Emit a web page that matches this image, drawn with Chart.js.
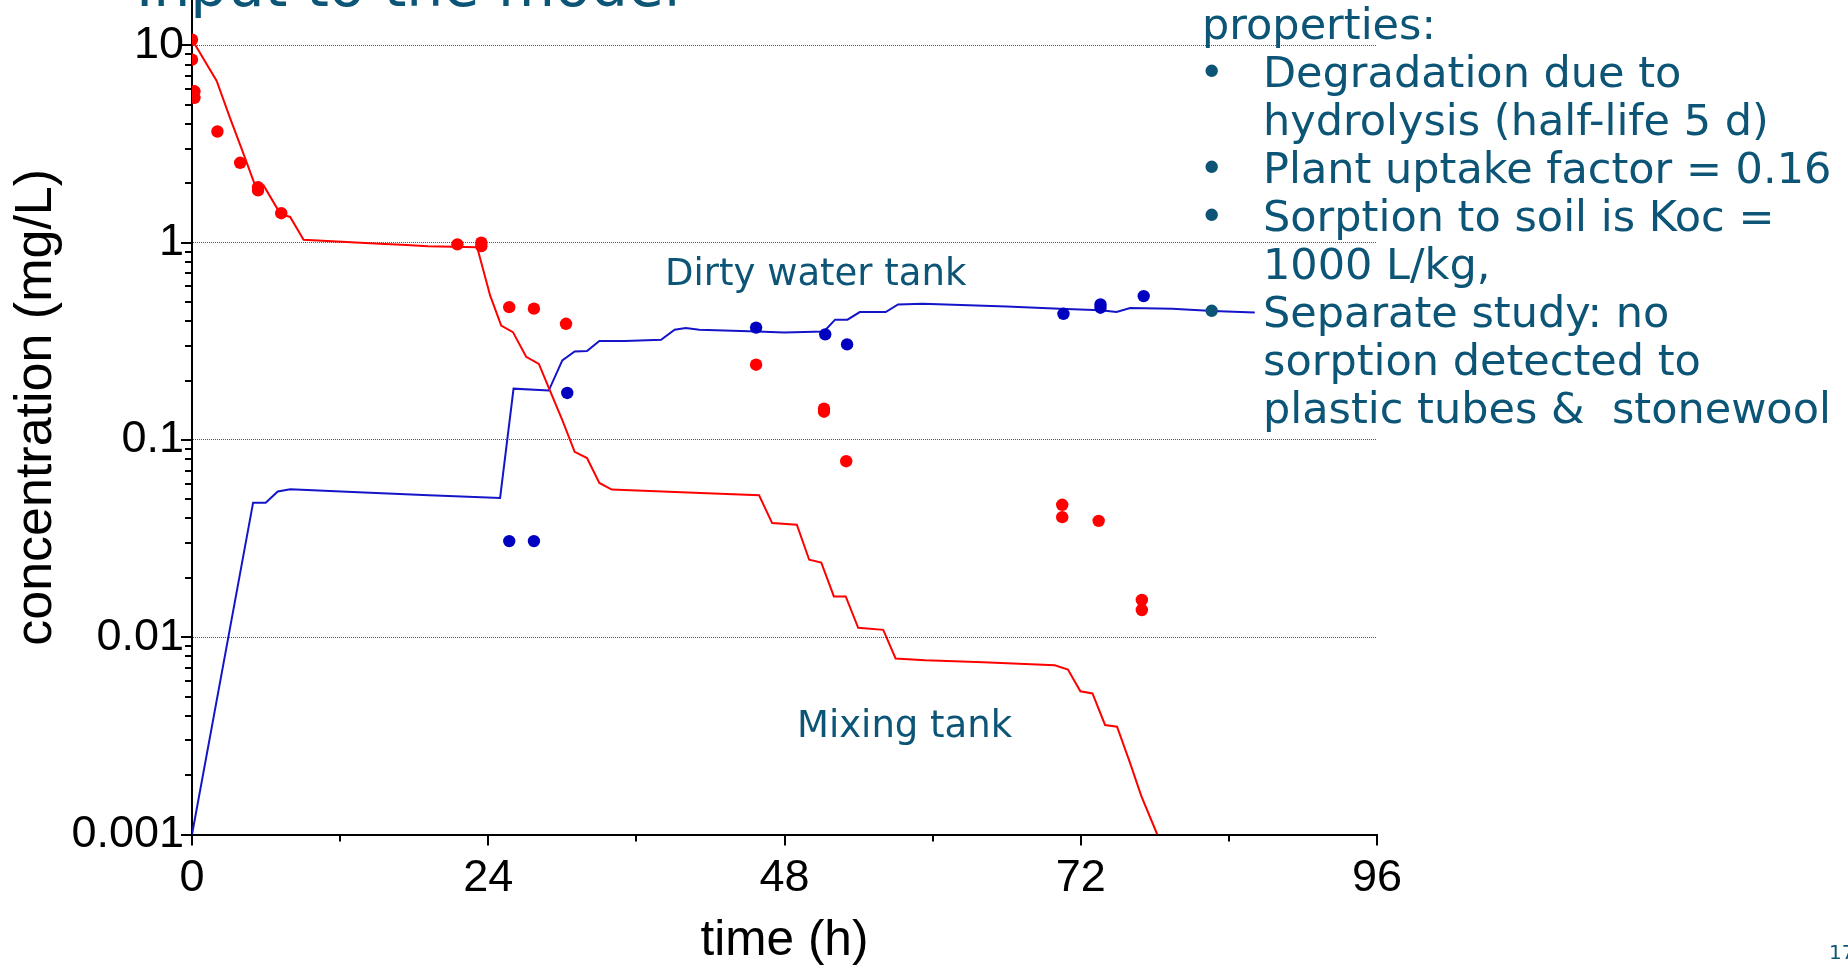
<!DOCTYPE html>
<html>
<head>
<meta charset="utf-8">
<script src="https://cdn.jsdelivr.net/npm/chart.js@4.4.1/dist/chart.umd.min.js"></script>
<style>
  html, body { margin: 0; padding: 0; width: 1848px; height: 969px; overflow: hidden; background: #fff; }
  #wrap { position: relative; width: 1848px; height: 969px; overflow: hidden; }
  #c { position: absolute; left: 0; top: -26px; }
  .t { position: absolute; font-family: "DejaVu Sans", Verdana, sans-serif; color: #0c5577; line-height: 1; white-space: pre; }
  .rb { font-size: 43px; }
</style>
</head>
<body>
<div id="wrap">
  <canvas id="c" width="1848" height="995"></canvas>
  <div class="t" style="left:136px; top:-43px; font-size:58.5px;">Input to the model</div>
  <div class="t" style="left:665px; top:254px; font-size:37px;">Dirty water tank</div>
  <div class="t" style="left:797px; top:706px; font-size:37px;">Mixing tank</div>
  <div class="t rb" style="left:1202px; top:3px;">properties:</div>
  <div class="t rb" style="left:1199px; top:51px;">•</div>
  <div class="t rb" style="left:1263px; top:51px;">Degradation due to</div>
  <div class="t rb" style="left:1263px; top:99px;">hydrolysis (half-life 5 d)</div>
  <div class="t rb" style="left:1199px; top:147px;">•</div>
  <div class="t rb" style="left:1263px; top:147px;">Plant uptake factor = 0.16</div>
  <div class="t rb" style="left:1199px; top:195px;">•</div>
  <div class="t rb" style="left:1263px; top:195px;">Sorption to soil is Koc =</div>
  <div class="t rb" style="left:1263px; top:243px;">1000 L/kg,</div>
  <div class="t rb" style="left:1199px; top:291px;">•</div>
  <div class="t rb" style="left:1263px; top:291px;">Separate study: no</div>
  <div class="t rb" style="left:1263px; top:339px;">sorption detected to</div>
  <div class="t rb" style="left:1263px; top:387px;">plastic tubes &amp;  stonewool</div>
  <div class="t" style="left:1829px; top:942px; font-size:20px;">17</div>
</div>
<script>
// ---- data ----
const mixModelT = [0, 2.0, 3.07, 3.97, 5.06, 5.8, 7.16, 7.95, 9.04, 15.2, 17.0, 19.1, 23.1, 24.15, 25.05, 26.0, 27.07, 28.1, 29.0, 30.0, 31.0, 32.0, 33.0, 34.0, 41.2, 45.94, 47.0, 49.0, 50.0, 50.98, 52.0, 52.96, 53.97, 56.0, 57.0, 59.4, 64.1, 69.9, 70.96, 71.97, 72.95, 73.97, 74.94, 76.0, 76.9, 78.2];
const mixModelC = [10.7, 6.6, 4.3, 3.05, 1.99, 1.95, 1.40, 1.35, 1.035, 0.987, 0.976, 0.96, 0.949, 0.54, 0.38, 0.352, 0.264, 0.243, 0.178, 0.126, 0.087, 0.081, 0.0605, 0.056, 0.0538, 0.0524, 0.0379, 0.0372, 0.0247, 0.0239, 0.0161, 0.0161, 0.01116, 0.0109, 0.0078, 0.00764, 0.00747, 0.00721, 0.00686, 0.00532, 0.00519, 0.00359, 0.00352, 0.0023, 0.00157, 0.001];

const dirtyModelT = [0, 4.95, 5.97, 6.95, 7.96, 13.0, 19.2, 24.96, 26.05, 28.9, 30.0, 31.0, 32.0, 33.0, 35.1, 38.0, 39.1, 40.0, 41.1, 45.8, 47.97, 51.2, 52.1, 53.1, 54.1, 56.2, 57.2, 59.2, 66.0, 70.3, 73.6, 74.9, 76.0, 79.4, 82.7, 86.1];
const dirtyModelC = [0.001, 0.0481, 0.0481, 0.0548, 0.0562, 0.0544, 0.0524, 0.0508, 0.182, 0.178, 0.253, 0.281, 0.282, 0.317, 0.317, 0.322, 0.362, 0.369, 0.362, 0.355, 0.35, 0.355, 0.407, 0.407, 0.445, 0.445, 0.486, 0.49, 0.475, 0.462, 0.454, 0.445, 0.466, 0.462, 0.45, 0.442];

const mixObsT = [0, 0, 0.2, 0.2, 2.06, 3.9, 5.35, 5.35, 7.23, 21.5, 23.44, 23.44, 25.7, 27.7, 30.3, 45.7, 51.2, 51.2, 53.0, 70.5, 70.5, 73.45, 76.95, 76.95];
const mixObsC = [10.7, 8.47, 5.85, 5.42, 3.66, 2.54, 1.91, 1.84, 1.41, 0.98, 1.0, 0.96, 0.471, 0.463, 0.388, 0.2406, 0.144, 0.139, 0.078, 0.0469, 0.0406, 0.0389, 0.01546, 0.01374];

const dirtyObsT = [25.7, 27.7, 30.4, 45.7, 51.3, 53.07, 70.6, 73.6, 73.6, 77.1];
const dirtyObsC = [0.0307, 0.0307, 0.173, 0.371, 0.343, 0.305, 0.436, 0.486, 0.468, 0.536];

const xTickValues = [0, 24, 48, 72, 96];
const xTickLabels = ['0', '24', '48', '72', '96'];
const yTickValues = [0.001, 0.01, 0.1, 1, 10];
const yTickLabels = ['0.001', '0.01', '0.1', '1', '10'];

// ---- helpers ----
const pts = (T, C) => T.map((t, i) => ({ x: t, y: C[i] }));
const isDecade = v => yTickValues.some(d => Math.abs(d - v) / d < 1e-9);
const decadeLabel = v => { const i = yTickValues.findIndex(d => Math.abs(d - v) / d < 1e-9); return i >= 0 ? yTickLabels[i] : ''; };

const RED = '#ff0000';
const BLUE_LINE = '#1414c8';
const BLUE_DOT = '#0000c0';

const tickMarks = {
  id: 'tickMarks',
  afterDraw(chart) {
    const { ctx, scales: { x, y }, chartArea } = chart;
    ctx.save();
    ctx.strokeStyle = '#000';
    ctx.lineWidth = 2;
    ctx.beginPath();
    y.ticks.forEach(tk => {
      if (tk.value > 10.0001) return;
      const py = Math.round(y.getPixelForValue(tk.value));
      const len = isDecade(tk.value) ? 11 : 7;
      ctx.moveTo(chartArea.left - len, py);
      ctx.lineTo(chartArea.left, py);
    });
    for (let v = 0; v <= 96; v += 12) {
      const px = Math.round(x.getPixelForValue(v));
      const len = (v % 24 === 0) ? 11 : 7;
      ctx.moveTo(px, chartArea.bottom);
      ctx.lineTo(px, chartArea.bottom + len);
    }
    ctx.stroke();
    ctx.restore();
  }
};

Chart.defaults.font.family = '"Liberation Sans", Arial, sans-serif';
Chart.defaults.color = '#000';

new Chart(document.getElementById('c'), {
  type: 'line',
  data: {
    datasets: [
      { label: 'Mixing tank measured', data: pts(mixObsT, mixObsC), showLine: false, pointRadius: 6.2, pointBorderWidth: 0, pointBackgroundColor: RED, borderColor: RED, order: 0 },
      { label: 'Dirty water tank measured', data: pts(dirtyObsT, dirtyObsC), showLine: false, pointRadius: 6.2, pointBorderWidth: 0, pointBackgroundColor: BLUE_DOT, borderColor: BLUE_DOT, order: 0 },
      { label: 'Mixing tank model', data: pts(mixModelT, mixModelC), borderColor: RED, borderWidth: 2, pointRadius: 0, tension: 0, fill: false, order: 1 },
      { label: 'Dirty water tank model', data: pts(dirtyModelT, dirtyModelC), borderColor: BLUE_LINE, borderWidth: 2, pointRadius: 0, tension: 0, fill: false, order: 1 }
    ]
  },
  options: {
    responsive: false,
    animation: false,
    devicePixelRatio: 1,
    layout: { padding: { left: 0, right: 471, top: 0, bottom: 0 } },
    plugins: { legend: { display: false }, tooltip: { enabled: false } },
    scales: {
      x: {
        type: 'linear', position: 'bottom', min: 0, max: 96,
        afterBuildTicks: s => { s.ticks = xTickValues.map(v => ({ value: v })); },
        afterFit: s => { s.height = 134.5; s.paddingLeft = 0; s.paddingRight = 0; },
        ticks: {
          autoSkip: false, maxRotation: 0, padding: 17,
          font: { size: 45 }, color: '#000',
          callback: (v) => { const i = xTickValues.indexOf(v); return i >= 0 ? xTickLabels[i] : ''; }
        },
        grid: { display: false, drawTicks: false },
        border: { display: true, color: '#000', width: 2 },
        title: { display: true, text: 'time (h)', color: '#000', font: { size: 49.5, lineHeight: 1.12 }, padding: { top: 0, bottom: 0 } }
      },
      y: {
        type: 'logarithmic', position: 'left', min: 0.001, max: 21.4, bounds: 'data',
        afterBuildTicks: s => {
          const arr = [];
          for (let k = -3; k <= 0; k++) for (let m = 1; m <= 9; m++) arr.push({ value: Number((m * Math.pow(10, k)).toPrecision(6)) });
          arr.push({ value: 10 });
          s.ticks = arr;
        },
        afterFit: s => { s.width = 192; s.paddingTop = 0; s.paddingBottom = 0; },
        ticks: {
          autoSkip: false, padding: 8,
          font: { size: 45 }, color: '#000',
          callback: (v) => decadeLabel(v)
        },
        grid: {
          drawTicks: false,
          lineWidth: 1,
          color: c => (c.tick && isDecade(c.tick.value) && c.tick.value > 0.0011) ? '#555555' : 'rgba(0,0,0,0)'
        },
        border: { display: true, color: '#000', width: 2, dash: [1, 1] },
        title: { display: true, text: 'concentration (mg/L)', color: '#000', font: { size: 52, lineHeight: 1.2 }, padding: { top: 5, bottom: 0 } }
      }
    }
  },
  plugins: [tickMarks]
});
</script>
</body>
</html>
